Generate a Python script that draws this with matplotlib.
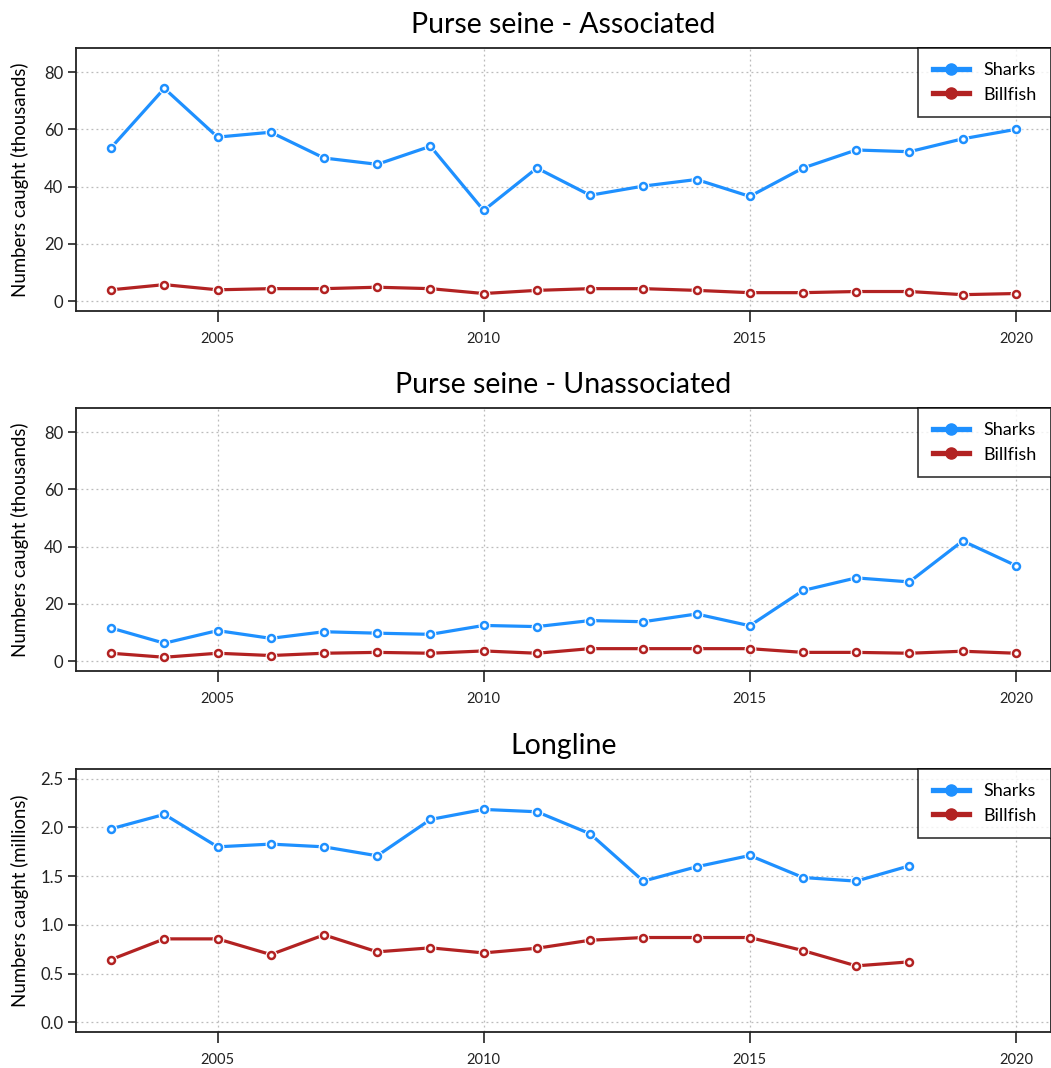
import matplotlib
matplotlib.use("Agg")
import matplotlib.pyplot as plt
from matplotlib.lines import Line2D

plt.rcParams['font.family'] = ['Lato', 'DejaVu Sans']

years = list(range(2003, 2021))
years_ll = list(range(2003, 2019))

ps_assoc_sharks = [53.6, 74.3, 57.3, 59.0, 50.0, 47.8, 54.1, 31.7, 46.5, 37.0, 40.2, 42.5, 36.6, 46.5, 52.8, 52.2, 56.7, 60.0]
ps_assoc_billfish = [4.0, 5.8, 4.0, 4.4, 4.4, 4.9, 4.4, 2.7, 3.8, 4.4, 4.4, 3.8, 3.0, 3.0, 3.4, 3.4, 2.3, 2.7]

ps_unassoc_sharks = [11.6, 6.3, 10.7, 8.0, 10.3, 9.8, 9.4, 12.5, 12.1, 14.2, 13.8, 16.5, 12.4, 24.7, 29.1, 27.7, 42.0, 33.4]
ps_unassoc_billfish = [2.8, 1.4, 2.8, 2.0, 2.8, 3.1, 2.8, 3.6, 2.8, 4.4, 4.4, 4.4, 4.4, 3.1, 3.1, 2.8, 3.5, 2.8]

ll_sharks = [1.986, 2.134, 1.801, 1.829, 1.801, 1.709, 2.082, 2.185, 2.161, 1.935, 1.449, 1.596, 1.712, 1.486, 1.449, 1.606]
ll_billfish = [0.644, 0.856, 0.856, 0.695, 0.897, 0.723, 0.764, 0.712, 0.760, 0.842, 0.870, 0.870, 0.870, 0.736, 0.579, 0.620]

titles = ["Purse seine - Associated", "Purse seine - Unassociated", "Longline"]
ylabels = ["Numbers caught (thousands)", "Numbers caught (thousands)", "Numbers caught (millions)"]
series_labels = ["Sharks", "Billfish"]
xticks = [2005, 2010, 2015, 2020]

SHARK = "#1E90FF"
BILL = "#B22222"

W, H = 1051, 1068
fig = plt.figure(figsize=(W / 100, H / 100), dpi=100)

panels = [
    (ps_assoc_sharks, ps_assoc_billfish, years, (-3.4, 88.4), [0, 20, 40, 60, 80], ["0", "20", "40", "60", "80"], 311),
    (ps_unassoc_sharks, ps_unassoc_billfish, years, (-3.4, 88.4), [0, 20, 40, 60, 80], ["0", "20", "40", "60", "80"], 671),
    (ll_sharks, ll_billfish, years_ll, (-0.1, 2.6), [0, 0.5, 1.0, 1.5, 2.0, 2.5], ["0.0", "0.5", "1.0", "1.5", "2.0", "2.5"], 1032),
]

left_px, right_px, height_px = 76, 1051, 263

for i, (s, b, yrs, ylim, yt, ytl, bottom_px) in enumerate(panels):
    ax = fig.add_axes([left_px / W, (H - bottom_px) / H, (right_px - left_px) / W, height_px / H])
    for vals, col in ((s, SHARK), (b, BILL)):
        ax.plot(yrs, vals, color=col, lw=2.3, solid_capstyle='butt', zorder=3)
        ax.plot(yrs, vals, ls='none', marker='o', ms=7.5, mfc='white', mec='white', zorder=4)
        ax.plot(yrs, vals, ls='none', marker='o', ms=5, mfc='white', mec=col, mew=1.8, zorder=5)
    ax.set_xlim(2002.34, 2020.66)
    ax.set_ylim(*ylim)
    ax.set_xticks(xticks)
    ax.set_xticklabels([str(x) for x in xticks], fontsize=10.5)
    ax.set_yticks(yt)
    ax.set_yticklabels(ytl, fontsize=12)
    ax.tick_params(axis='x', length=8, width=1.2, pad=7, colors='#222222')
    ax.tick_params(axis='y', length=6, width=1.2, pad=3, colors='#222222')
    ax.grid(True, ls=(0, (1.5, 2.5)), color='#bbbbbb', lw=0.9)
    ax.set_axisbelow(True)
    for sp in ax.spines.values():
        sp.set_color('#222222')
        sp.set_linewidth(1.3)
    ax.set_title(titles[i], fontsize=20.5, pad=11, color='black')
    ax.set_ylabel(ylabels[i], fontsize=13.4)
    ax.yaxis.set_label_coords(-0.048, 0.5)
    handles = [
        Line2D([], [], color=SHARK, lw=3.8, marker='o', ms=8),
        Line2D([], [], color=BILL, lw=3.8, marker='o', ms=8),
    ]
    leg = ax.legend(handles, series_labels, loc='upper right', bbox_to_anchor=(1.0, 1.0),
                    fontsize=13, frameon=True, fancybox=False, edgecolor='black',
                    handlelength=2.0, handletextpad=0.8, borderpad=0.8, labelspacing=0.45,
                    borderaxespad=0)
    leg.get_frame().set_linewidth(1.2)

fig.savefig("out.png", dpi=100)
